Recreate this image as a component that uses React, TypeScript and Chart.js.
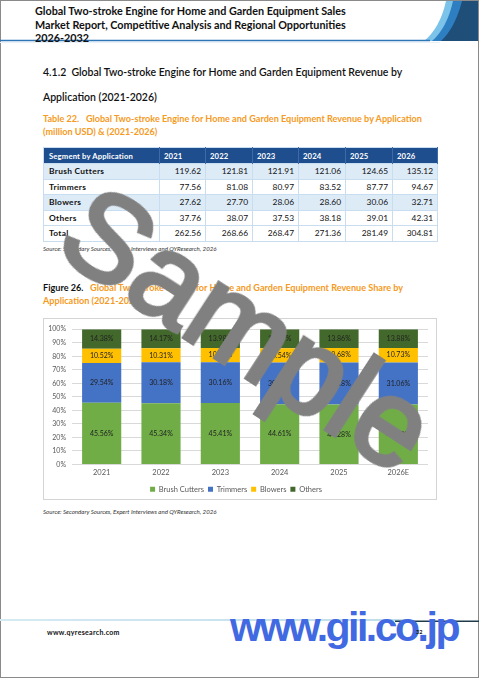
import React, { useEffect, useRef } from "react";
import { Chart, registerables } from "chart.js";

Chart.register(...registerables);

// ---- Chart data (share, %) ----
const years = ["2021", "2022", "2023", "2024", "2025", "2026E"];
const brushCutters = [45.56, 45.34, 45.41, 44.61, 44.28, 44.33];
const trimmers = [29.54, 30.18, 30.16, 30.78, 31.18, 31.06];
const blowers = [10.52, 10.31, 10.45, 10.54, 10.68, 10.73];
const others = [14.38, 14.17, 13.98, 14.07, 13.86, 13.88];
const seriesNames = ["Brush Cutters", "Trimmers", "Blowers", "Others"];

// ---- Table data (million USD) ----
const tableYears = ["2021", "2022", "2023", "2024", "2025", "2026"];
const tableSegments = ["Brush Cutters", "Trimmers", "Blowers", "Others", "Total"];
const tableBrush = ["119.62", "121.81", "121.91", "121.06", "124.65", "135.12"];
const tableTrimmers = ["77.56", "81.08", "80.97", "83.52", "87.77", "94.67"];
const tableBlowers = ["27.62", "27.70", "28.06", "28.60", "30.06", "32.71"];
const tableOthers = ["37.76", "38.07", "37.53", "38.18", "39.01", "42.31"];
const tableTotal = ["262.56", "268.66", "268.47", "271.36", "281.49", "304.81"];

const FONT = "Lato, 'Open Sans', sans-serif";
const ORANGE = "#F59A23";

function StackedChart() {
  const ref = useRef<HTMLCanvasElement>(null);
  useEffect(() => {
    if (!ref.current) return;
    const labelPlugin = {
      id: "segLabels",
      afterDatasetsDraw(chart: any) {
        const ctx = chart.ctx;
        ctx.save();
        ctx.font = "7px Lato";
        ctx.fillStyle = "#222222";
        ctx.textAlign = "center";
        ctx.textBaseline = "middle";
        chart.data.datasets.forEach((ds: any, i: number) => {
          const meta = chart.getDatasetMeta(i);
          meta.data.forEach((el: any, j: number) => {
            const v = ds.data[j] as number;
            const p = el.getProps(["x", "y", "base"], true);
            ctx.fillText(v.toFixed(2) + "%", p.x, (p.y + p.base) / 2);
          });
        });
        ctx.restore();
      },
    };
    const colors = ["#70AD47", "#4472C4", "#FFC000", "#43682B"];
    const values = [brushCutters, trimmers, blowers, others];
    const chart = new Chart(ref.current, {
      type: "bar",
      data: {
        labels: years,
        datasets: seriesNames.map((name, i) => ({
          label: name,
          data: values[i],
          backgroundColor: colors[i],
          borderWidth: 0,
          categoryPercentage: 1,
          barPercentage: 0.66,
        })),
      },
      options: {
        animation: false,
        responsive: false,
        maintainAspectRatio: false,
        layout: { padding: { top: 6, right: 8, left: 0, bottom: -4 } },
        plugins: {
          tooltip: { enabled: false },
          legend: {
            position: "bottom",
            labels: {
              boxWidth: 5,
              boxHeight: 5,
              padding: 4,
              color: "#595959",
              font: { family: "Lato", size: 7.5 },
            },
          },
        },
        scales: {
          x: {
            stacked: true,
            grid: { display: false, drawTicks: false },
            border: { display: false },
            ticks: { color: "#595959", font: { family: "Lato", size: 7.5 }, padding: 4 },
          },
          y: {
            stacked: true,
            min: 0,
            max: 100,
            border: { display: false },
            grid: { color: "#D9D9D9", drawTicks: false },
            ticks: {
              stepSize: 10,
              padding: 6,
              color: "#595959",
              font: { family: "Lato", size: 7 },
              callback: (v: any) => v + "%",
            },
            afterFit: (s: any) => {
              s.width = 28;
            },
          },
        },
      },
      plugins: [labelPlugin],
    });
    return () => chart.destroy();
  }, []);
  return <canvas ref={ref} width={392} height={180} style={{ display: "block", width: 392, height: 180 }} />;
}

const abs = (s: React.CSSProperties): React.CSSProperties => ({ position: "absolute", ...s });

export default function App() {
  useEffect(() => {
    document.body.style.margin = "0";
  }, []);
  const rows = [tableBrush, tableTrimmers, tableBlowers, tableOthers, tableTotal];
  const colW = [116, 46, 47, 46, 47, 47, 45];
  const cellBorder = "1px solid #C9DDF0";
  return (
    <div style={{ position: "relative", width: 480, height: 679, background: "#fff", overflow: "hidden", fontFamily: FONT }}>
      {/* page border */}
      <div style={abs({ left: 0, top: 0, width: 479, height: 678, border: "1px solid #8a8a8a", boxSizing: "border-box" })} />
      {/* header decoration */}
      <svg style={abs({ left: 0, top: 0 })} width={480} height={46}>
        <path d="M446,1 Q440,28 424,41 L478,41 L478,1 Z" fill="#7CC3EA" />
        <path d="M453,1 Q447,28 432,41 L478,41 L478,1 Z" fill="#2E7FC2" />
        <path d="M462,1 Q455,28 441,41 L478,41 L478,1 Z" fill="#1F4E78" />
        <line x1={0} y1={40.5} x2={430} y2={40.5} stroke="#2E75B6" strokeWidth={1.3} />
        <line x1={0} y1={42.5} x2={440} y2={42.5} stroke="#E8F1F8" strokeWidth={1} />
      </svg>
      <div style={abs({ left: 35, top: 4, fontSize: 10.8, fontWeight: 700, lineHeight: "13.5px", color: "#111", whiteSpace: "nowrap" })}>
        Global Two-stroke Engine for Home and Garden Equipment Sales
        <br />
        Market Report, Competitive Analysis and Regional Opportunities
        <br />
        2026-2032
      </div>
      {/* section heading */}
      <div style={abs({ left: 43, top: 60, fontSize: 10.5, fontWeight: 600, lineHeight: "25px", color: "#111", whiteSpace: "nowrap" })}>
        4.1.2&nbsp;&nbsp;Global Two-stroke Engine for Home and Garden Equipment Revenue by
        <br />
        Application (2021-2026)
      </div>
      {/* table title */}
      <div style={abs({ left: 43, top: 112, fontSize: 9.1, fontWeight: 700, lineHeight: "13px", color: ORANGE, whiteSpace: "nowrap" })}>
        Table 22.&nbsp;&nbsp;&nbsp;Global Two-stroke Engine for Home and Garden Equipment Revenue by Application
        <br />
        (million USD) &amp; (2021-2026)
      </div>
      {/* table */}
      <table
        style={abs({
          left: 43,
          top: 147,
          width: 394,
          borderCollapse: "collapse",
          tableLayout: "fixed",
          fontSize: 8.4,
          color: "#111",
          border: cellBorder,
        })}
      >
        <colgroup>
          {colW.map((w, i) => (
            <col key={i} style={{ width: w }} />
          ))}
        </colgroup>
        <thead>
          <tr style={{ height: 16, background: "#1E4E8E", color: "#fff" }}>
            <th style={{ textAlign: "left", padding: "0 0 0 5px", fontWeight: 700, fontSize: 7.7, letterSpacing: 0.15, whiteSpace: "nowrap", borderRight: "1px solid #3C6BA8" }}>
              Segment by Application
            </th>
            {tableYears.map((y) => (
              <th key={y} style={{ textAlign: "left", padding: "0 0 0 4px", fontWeight: 700, fontSize: 7.7, letterSpacing: 0.15, borderRight: "1px solid #3C6BA8" }}>
                {y}
              </th>
            ))}
          </tr>
        </thead>
        <tbody>
          {rows.map((r, i) => (
            <tr key={i} style={{ height: 15.5, background: i % 2 === 0 && i < 4 ? "#DDEBF7" : "#fff" }}>
              <td style={{ fontWeight: 700, padding: "0 0 0 5px", letterSpacing: 0.3, borderTop: cellBorder, borderRight: cellBorder }}>
                {tableSegments[i]}
              </td>
              {r.map((v, j) => (
                <td key={j} style={{ textAlign: "right", padding: "0 4px 0 0", borderTop: cellBorder, borderRight: cellBorder }}>
                  {v}
                </td>
              ))}
            </tr>
          ))}
        </tbody>
      </table>
      <div style={abs({ left: 43, top: 245, fontSize: 6.1, fontStyle: "italic", color: "#333", whiteSpace: "nowrap" })}>
        Source: Secondary Sources, Expert Interviews and QYResearch, 2026
      </div>
      {/* figure title */}
      <div style={abs({ left: 43, top: 280.5, fontSize: 9.1, fontWeight: 700, lineHeight: "13px", color: ORANGE, whiteSpace: "nowrap" })}>
        <span style={{ color: "#111" }}>Figure 26.</span>&nbsp;&nbsp;&nbsp;Global Two-stroke Engine for Home and Garden Equipment Revenue Share by
        <br />
        Application (2021-2026)
      </div>
      {/* chart box */}
      <div style={abs({ left: 43, top: 318, width: 394, height: 182, border: "1px solid #D4D4D4", boxSizing: "border-box" })}>
        <StackedChart />
      </div>
      <div style={abs({ left: 43, top: 508, fontSize: 6.1, fontStyle: "italic", color: "#333", whiteSpace: "nowrap" })}>
        Source: Secondary Sources, Expert Interviews and QYResearch, 2026
      </div>
      {/* footer */}
      <svg style={abs({ left: 0, top: 615 })} width={480} height={12}>
        <defs>
          <linearGradient id="fl" x1="0" x2="1" y1="0" y2="0">
            <stop offset="0" stopColor="#D6EAF3" />
            <stop offset="1" stopColor="#BFDDEA" />
          </linearGradient>
        </defs>
        <rect x={0} y={4} width={410} height={2} fill="url(#fl)" />
        <rect x={395} y={5.5} width={84} height={1.5} fill="#1F3B4C" />
      </svg>
      <div style={abs({ left: 47, top: 628, fontSize: 7, fontWeight: 700, letterSpacing: 0.3, color: "#111", whiteSpace: "nowrap" })}>
        www.qyresearch.com
      </div>
      <div
        style={abs({
          left: 230,
          top: 607,
          fontFamily: "'Liberation Sans', Arial, sans-serif",
          fontSize: 41,
          fontWeight: 700,
          letterSpacing: -2.5,
          lineHeight: 1,
          color: "#4169E1",
          whiteSpace: "nowrap",
        })}
      >
        www.gii.co.jp
      </div>
      <div style={abs({ left: 416, top: 629, fontSize: 5.5, fontWeight: 700, color: "#111" })}>32</div>
      {/* watermark */}
      <div
        style={abs({
          left: 248,
          top: 329,
          transform: "translate(-50%, -50%) rotate(33deg)",
          fontFamily: "'Liberation Sans', Arial, sans-serif",
          fontSize: 122,
          fontWeight: 400,
          WebkitTextStroke: "4px #808080",
          lineHeight: 1,
          color: "#808080",
          whiteSpace: "nowrap",
          pointerEvents: "none",
        })}
      >
        Sample
      </div>
    </div>
  );
}
